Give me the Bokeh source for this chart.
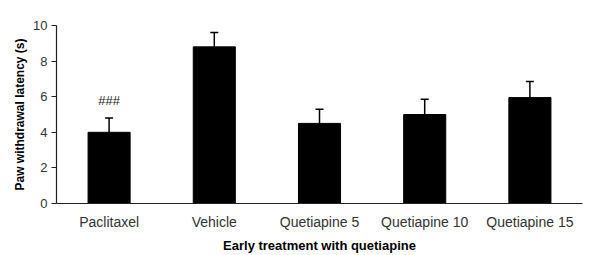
from bokeh.plotting import figure
from bokeh.models import ColumnDataSource, Whisker, TeeHead, FixedTicker, Range1d, FactorRange
from bokeh.core.properties import value
from bokeh.embed import file_html
from bokeh.resources import INLINE

categories = ["Paclitaxel", "Vehicle", "Quetiapine 5", "Quetiapine 10", "Quetiapine 15"]
means = [4.0, 8.8, 4.5, 5.0, 5.95]
sems = [0.8, 0.8, 0.8, 0.85, 0.9]
annotations = ["###", "", "", "", ""]
y_ticks = [0, 2, 4, 6, 8, 10]

upper = [m + s for m, s in zip(means, sems)]
src = ColumnDataSource(dict(cat=categories, mean=means, upper=upper))

p = figure(x_range=FactorRange(*categories, range_padding=0), y_range=Range1d(0, 10),
           width=591, height=255, output_backend="svg", toolbar_location=None,
           min_border_left=56, min_border_right=9, min_border_top=25, min_border_bottom=52)
p.outline_line_color = None
p.xgrid.grid_line_color = None
p.ygrid.grid_line_color = None

p.vbar(x="cat", top="mean", width=0.4, source=src, fill_color="black", line_color="black")
p.add_layout(Whisker(base="cat", lower="mean", upper="upper", source=src,
                     line_color="black", line_width=1.5,
                     upper_head=TeeHead(size=8, line_color="black", line_width=1.5),
                     lower_head=None))

ann_src = ColumnDataSource(dict(cat=[c for c, a in zip(categories, annotations) if a],
                                y=[u + 1.0 for u, a in zip(upper, annotations) if a],
                                t=[a for a in annotations if a]))
p.text(x="cat", y="y", text="t", source=ann_src, text_align="center", text_baseline="middle",
       text_font=value("Liberation Sans"), text_font_size="13px", text_color="#222")

p.yaxis.ticker = FixedTicker(ticks=y_ticks)
p.yaxis.major_tick_in = 0
p.yaxis.major_tick_out = 5
p.yaxis.minor_tick_line_color = None
p.yaxis.major_label_standoff = 4
p.yaxis.axis_label = "Paw withdrawal latency (s)"
p.yaxis.axis_label_standoff = 3
p.xaxis.axis_label = "Early treatment with quetiapine"
p.xaxis.major_tick_in = 0
p.xaxis.major_tick_out = 0
p.xaxis.major_label_standoff = 10
p.xaxis.axis_label_standoff = 5

for ax in (p.xaxis[0], p.yaxis[0]):
    ax.axis_line_color = "#222"
    ax.axis_line_width = 1.2
    ax.major_label_text_font = "Liberation Sans"
    ax.major_label_text_color = "#333"
    ax.axis_label_text_font = "Liberation Sans"
    ax.axis_label_text_font_style = "bold"
    ax.axis_label_text_color = "black"
p.yaxis.major_tick_line_color = "#222"
p.xaxis.major_tick_line_color = None

p.xaxis.major_label_text_font_size = "14px"
p.yaxis.major_label_text_font_size = "13px"
p.xaxis.axis_label_text_font_size = "13px"
p.yaxis.axis_label_text_font_size = "12px"

open("out.html", "w").write(file_html(p, INLINE))
